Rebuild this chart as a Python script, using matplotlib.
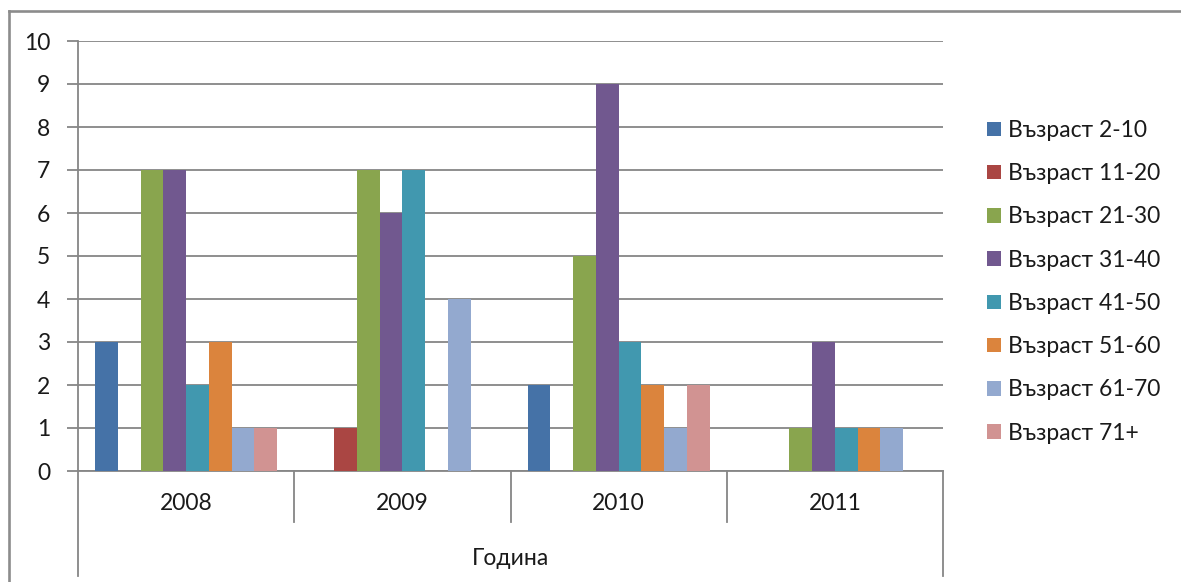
import matplotlib
matplotlib.use("Agg")
import matplotlib.pyplot as plt
from matplotlib.lines import Line2D
from matplotlib.patches import Patch
import numpy as np

# данни
godini = ["2008", "2009", "2010", "2011"]
grupi = ["Възраст 2-10", "Възраст 11-20", "Възраст 21-30", "Възраст 31-40",
         "Възраст 41-50", "Възраст 51-60", "Възраст 61-70", "Възраст 71+"]
vazrast_2_10 = [3, 0, 2, 0]
vazrast_11_20 = [0, 1, 0, 0]
vazrast_21_30 = [7, 7, 5, 1]
vazrast_31_40 = [7, 6, 9, 3]
vazrast_41_50 = [2, 7, 3, 1]
vazrast_51_60 = [3, 0, 2, 1]
vazrast_61_70 = [1, 4, 1, 1]
vazrast_71 = [1, 0, 2, 0]
stoinosti = [vazrast_2_10, vazrast_11_20, vazrast_21_30, vazrast_31_40,
             vazrast_41_50, vazrast_51_60, vazrast_61_70, vazrast_71]
cvetove = ["#4572A7", "#AA4643", "#89A54E", "#71588F",
           "#4198AF", "#DB843D", "#93A9CF", "#D19392"]

plt.rcParams['font.family'] = ['Lato', 'DejaVu Sans']
tekst = "#1a1a1a"
siv = "#868686"
fs = 16.5

W, H = 1181, 582
fig = plt.figure(figsize=(W / 100, H / 100), dpi=100)
ax = fig.add_axes([78 / W, (H - 471) / H, (943 - 78) / W, 430 / H])

# стълбове
n = len(grupi)
shir = 1.0 / (n + 1.5)
x = np.arange(len(godini))
for i in range(n):
    poz = x + 0.75 * shir + (i + 0.5) * shir
    ax.bar(poz, stoinosti[i], width=shir, color=cvetove[i], label=grupi[i], zorder=3)

ax.set_xlim(0, len(godini))
ax.set_ylim(0, 10)
ax.set_yticks(range(0, 11))
ax.yaxis.grid(True, color=siv, linewidth=1.3, zorder=0)
ax.tick_params(axis='y', length=8, width=1.3, color=siv, labelsize=fs, labelcolor=tekst, pad=12)
ax.set_xticks(x + 0.5, godini)
ax.tick_params(axis='x', length=0, labelsize=fs, labelcolor=tekst, pad=16)
for s in ['top', 'right']:
    ax.spines[s].set_visible(False)
ax.spines['bottom'].set_color(siv)
ax.spines['bottom'].set_linewidth(1.3)
ax.spines['left'].set_color(siv)
ax.spines['left'].set_linewidth(1.3)

# разделители на категориите
tr = ax.get_xaxis_transform()
for k in range(1, len(godini)):
    ax.plot([k, k], [0, -0.119], color=siv, linewidth=1.3, transform=tr, clip_on=False)
ax.plot([0, 0], [0, -0.245], color=siv, linewidth=1.3, transform=tr, clip_on=False)
ax.plot([len(godini), len(godini)], [0, -0.245], color=siv, linewidth=1.3, transform=tr, clip_on=False)
ax.text(len(godini) / 2, -0.203, "Година", transform=tr, ha='center', va='center',
        fontsize=fs, color=tekst)

# легенда
ruchki = [Patch(facecolor=c, edgecolor='none') for c in cvetove]
fig.legend(ruchki, grupi, loc='upper left', bbox_to_anchor=(987 / W, 1 - 120 / H),
           frameon=False, fontsize=fs, labelcolor=tekst, handlelength=0.6,
           handleheight=0.6, handletextpad=0.3, labelspacing=0.97,
           borderpad=0, borderaxespad=0)

# рамка
fig.add_artist(Line2D([9 / W, 1], [1 - 11 / H, 1 - 11 / H], color="#8c8c8c", linewidth=1.9,
                      transform=fig.transFigure))
fig.add_artist(Line2D([9 / W, 9 / W], [0, 1 - 11 / H], color="#8c8c8c", linewidth=1.9,
                      transform=fig.transFigure))

fig.savefig("out.png", dpi=100, facecolor="white")
